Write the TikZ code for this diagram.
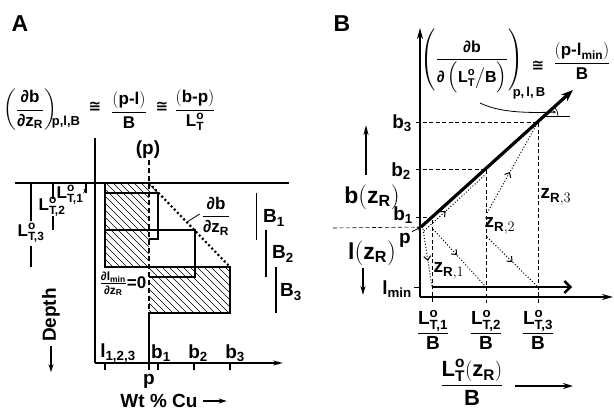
\documentclass[tikz,border=0pt]{standalone}
\usepackage{amsmath}
\usepackage{fontspec}
\setmainfont{Liberation Sans}
\newfontfamily\symf{DejaVu Sans}
\usetikzlibrary{arrows.meta,positioning,calc,decorations.markings}
\newcommand{\LTo}[1]{\text{L}^{\text{o}}_{\text{#1}}}
\tikzset{
  lbl/.style    ={font=\fontsize{19}{21}\selectfont\bfseries, inner sep=1pt},
  lbleq/.style  ={font=\fontsize{17}{19}\selectfont\bfseries, inner sep=0pt},
  lblcong/.style={font=\fontsize{15}{17}\selectfont\symf\bfseries, inner sep=0pt},
  lblmid/.style ={font=\fontsize{17}{19}\selectfont\bfseries, inner sep=1pt},
  lblsm/.style  ={font=\fontsize{13}{15}\selectfont\bfseries, inner sep=0pt},
  lblbig/.style ={font=\fontsize{23}{26}\selectfont\bfseries, inner sep=1pt},
  thickln/.style={line width=2.5pt},
  thinln/.style ={line width=1.1pt},
  dashln/.style ={line width=0.6pt, dash pattern=on 4pt off 2.5pt},
  hatchln/.style={line width=0.7pt},
  arr/.style    ={-{Stealth[length=8pt,width=5pt]}, line width=1.4pt},
  dotarr/.style ={line width=1pt, dotted, postaction={decorate},
                  decoration={markings, mark=at position #1 with {\arrow{Straight Barb[length=4pt,width=7pt]}}}},
  dotarr/.default=0.55,
}
\begin{document}
\begin{tikzpicture}[x=1pt,y=-1pt]
  \useasboundingbox (0,0) rectangle (614,411);

  % ---------------- A
  \node[lblbig] (pa) at (20,24) {A};
  \node[lbleq] (eqa1) at (30,110) {$\left(\dfrac{\text{∂b}}{\text{∂z}_{\text{R}}}\right)$};
  \node[lblsm] (eqa2) at (66,122) {p,l,B};
  \node[lblcong] (eqa3) at (95,107) {≅};
  \node[lbleq] (eqa4) at (129,110) {$\dfrac{(\text{p-l})}{\text{B}}$};
  \node[lblcong] (eqa5) at (162,107) {≅};
  \node[lbleq] (eqa6) at (195,110) {$\dfrac{(\text{b-p})}{\LTo{T}}$};

  \coordinate (s0) at (15,183);
  \coordinate (s1) at (289,183);
  \coordinate (oa) at (95,363);
  \coordinate (ptop) at (149,183);
  \coordinate (dbot) at (230,267);

  % hatched parts
  \begin{scope}
    \clip (105,183) rectangle (149,267) (149,183) -- (158.6,193) -- (149,193) -- cycle
          (149,267) rectangle (230,313);
    \foreach \h in {-90,-83,...,240} \draw[hatchln] (\h,183) -- ++(140,140);
  \end{scope}

  \draw[thinln] (s0) -- (s1);
  \draw[line width=1.5pt] (95,138) -- (oa);
  \draw[line width=1.5pt,-{Stealth[length=10pt,width=5pt]}] (oa) -- (283,363);
  \foreach \x in {105,149,158,194,230} \draw[line width=1.2pt] (\x,363) -- (\x,370);

  \draw[thickln] (105,183) -- (105,267) -- (dbot) -- (230,313) -- (149,313) -- (149,363);
  \draw[thinln] (105,193) -- (158,193) -- (158,239) -- (149,239);
  \draw[thinln] (105,230) -- (195,230) -- (195,277) -- (149,277);
  \draw[line width=2pt, dash pattern=on 5pt off 3pt] (149,160) -- (149,313);
  \draw[line width=2.2pt, dash pattern=on 2pt off 2.5pt] (ptop) -- (dbot);

  \node[lbl] (pp) at (148,150) {(p)};
  \node[lblmid] (dbdz) at (216,216) {$\dfrac{\text{∂b}}{\text{∂z}_{\text{R}}}$};
  \draw[line width=0.8pt] (dbdz.west) ++(-1,-2) -- (187,222);
  \node[lblmid] (dlmin) at (123,284) {$\frac{\text{∂l}_{\text{min}}}{\text{∂z}_{\text{R}}}\text{=0}$};

  % thickness bars
  \draw[thickln] (31,183) -- (31,221) (31,246) -- (31,267);
  \node[lblmid] (lt3) at (31,233) {$\LTo{T,3}$};
  \draw[thinln] (53,183) -- (53,199) (53,216) -- (53,230);
  \node[lblmid] (lt2) at (52,207) {$\LTo{T,2}$};
  \draw[thinln] (86,183) -- (86,193);
  \node[lblmid] (lt1) at (70,195) {$\LTo{T,1}$};
  \draw[line width=0.6pt,-{Stealth[length=3pt,width=3pt]}] (lt1.east) ++(-1,-2) -- (86,188);

  \draw[line width=1pt] (256,193) -- (256,240);
  \node[lbl] (bb1) at (274,218) {B\textsubscript{1}};
  \draw[line width=1.2pt] (266,230) -- (266,277);
  \node[lbl] (bb2) at (283,254) {B\textsubscript{2}};
  \draw[thickln] (276,267) -- (276,313);
  \node[lbl] (bb3) at (291,292) {B\textsubscript{3}};

  \node[lbl] (la) at (118,353) {l\textsubscript{1,2,3}};
  \node[lbl] (ba1) at (161,353) {b\textsubscript{1}};
  \node[lbl] (ba2) at (198,353) {b\textsubscript{2}};
  \node[lbl] (ba3) at (235,353) {b\textsubscript{3}};
  \node[lbl] (pa2) at (149,381) {p};
  \node[lbl] (wt) at (159,401) {Wt \% Cu};
  \draw[arr] (wt.east) ++(4,0) -- ++(24,0);
  \node[lbl,rotate=90] (dep) at (51,315) {Depth};
  \draw[arr] (dep.west) ++(0,3) -- ++(0,26);

  % ---------------- B
  \node[lblbig] (pb) at (342,24) {B};
  \coordinate (ob) at (420,297);
  \coordinate (P) at (421,227);
  \coordinate (b1) at (432,217);
  \coordinate (b2) at (486,169);
  \coordinate (b3) at (538,122);
  \coordinate (m1) at (432,287);
  \coordinate (m2) at (486,287);
  \coordinate (m3) at (538,287);
  \coordinate (tip) at (573,90);

  \draw[dashln] (416,122) -- (b3) -- (538,303);
  \draw[dashln] (416,169) -- (b2) -- (486,303);
  \draw[dashln] (416,217) -- (b1) -- (432,303);
  \draw[dashln] (333,228) -- (P);
  \draw[line width=0.8pt] (414,287) -- (420,287);

  \draw[dotarr] (423,229) -- (m1);
  \draw[dotarr=0.45] (433,229) -- (m2);
  \draw[dotarr=0.5] (487,237) -- (m3);
  \draw[dotarr=0.45] (487,213) -- (b3);
  \draw[dotarr=0.35] (424,231) -- (486,174);

  \draw[line width=2.6pt,-{Stealth[length=11pt,width=6pt]}] (ob) -- (420,28);
  \draw[line width=2.6pt,-{Stealth[length=11pt,width=6pt]}] (ob) -- (613,297);
  \draw[line width=3.2pt,-{Stealth[length=12pt,width=9pt]}] (P) -- (tip);
  \draw[line width=2.4pt,-{Straight Barb[length=6pt,width=12pt]}] (m1) -- (572,287);

  \node[lbleq,font=\fontsize{16}{18}\selectfont\bfseries] (eqb1) at (472,61) {$\left(\vrule height 28pt depth 28pt width 0pt\dfrac{\text{∂b}}{\text{∂}\left(\vrule height 10pt depth 9pt width 0pt\LTo{T}\big/\text{B}\right)}\right)$};
  \node[lblsm] (eqb2) at (529,93) {p,\,l,\,B};
  \node[lblcong] (eqb3) at (538,66) {≅};
  \node[lbleq] (eqb4) at (582,61) {$\dfrac{(\text{p-l}_{\text{min}})}{\text{B}}$};
  \coordinate (ang) at (544,116);
  \draw[line width=0.9pt] (ang) -- (570,116);
  \draw[line width=0.7pt] (ang) ++(14,0) arc[start angle=0,end angle=-42,radius=14];
  \draw[line width=0.8pt,-{Stealth[length=3pt,width=3pt]}] (480,103) .. controls (500,113) and (530,113) .. (556,112);

  \node[lbl] (lb3) at (402,123) {b\textsubscript{3}};
  \node[lbl] (lb2) at (401,171) {b\textsubscript{2}};
  \node[lbl] (lb1) at (403,215) {b\textsubscript{1}};
  \node[lbl] (lp) at (405,240) {p};
  \draw[line width=0.8pt,-{Stealth[length=4pt,width=4pt]}] (lp.north east) -- (P);
  \node[lbl] (lmin) at (397,289) {l\textsubscript{min}};

  \node[lblbig] (bz) at (372,197) {$\text{b}(\text{z}_{\text{R}})$};
  \draw[line width=2pt,-{Stealth[length=10pt,width=5pt]}] (366,175) -- (366,125);
  \node[lblbig] (lz) at (372,253) {$\text{l}(\text{z}_{\text{R}})$};
  \draw[line width=2pt,-{Stealth[length=9pt,width=5pt]}] (363,268) -- (363,295);

  \node[lbl] (zr1) at (449,271) {$\text{z}_{\text{R},1}$};
  \node[lbl] (zr2) at (500,226) {$\text{z}_{\text{R},2}$};
  \node[lbl] (zr3) at (556,197) {$\text{z}_{\text{R},3}$};

  \node[lbl] (x1) at (433,330) {$\dfrac{\LTo{T,1}}{\text{B}}$};
  \node[lbl] (x2) at (486,330) {$\dfrac{\LTo{T,2}}{\text{B}}$};
  \node[lbl] (x3) at (538,330) {$\dfrac{\LTo{T,3}}{\text{B}}$};
  \node[lblbig,font=\fontsize{22}{25}\selectfont\bfseries] (xl) at (472,382) {$\dfrac{\LTo{T}(\text{z}_{\text{R}})}{\text{B}}$};
  \draw[line width=2pt,-{Stealth[length=10pt,width=6pt]}] (515,386) -- (573,386);
\end{tikzpicture}
\end{document}
